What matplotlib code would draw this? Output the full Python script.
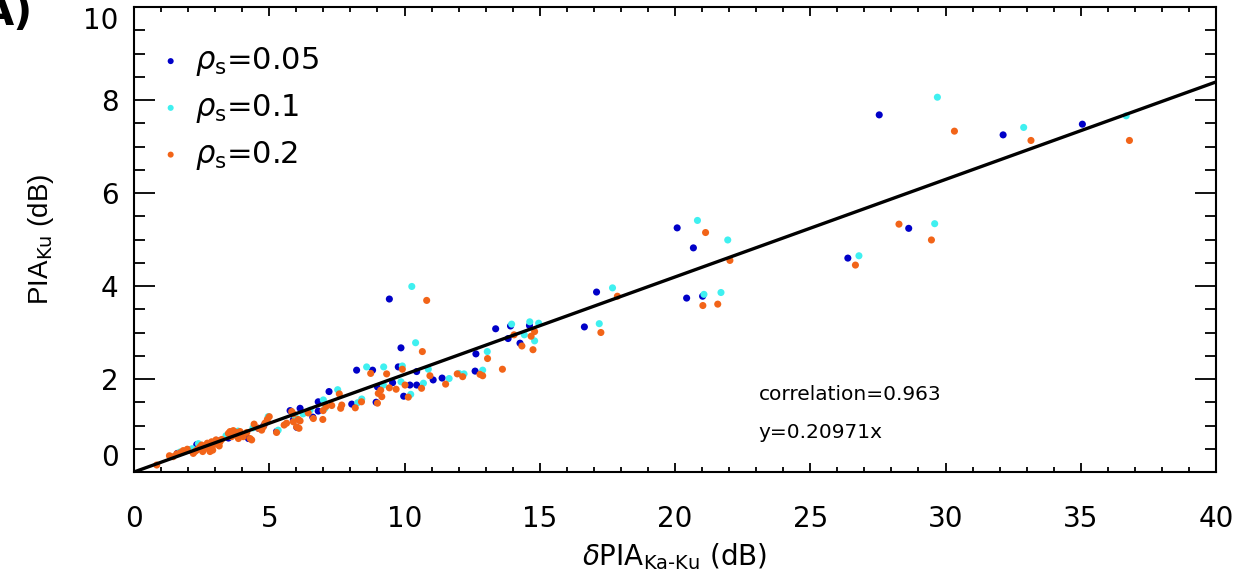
import matplotlib
matplotlib.use("Agg")
import matplotlib.pyplot as plt
from matplotlib.ticker import MultipleLocator, FixedLocator

plt.rcParams['font.family'] = ['DejaVu Sans']
plt.rcParams['mathtext.fontset'] = 'dejavusans'

# --- data: differential path-integrated attenuation vs Ku-band PIA ---
labels = [r'$\rho_{\rm s}$=0.05', r'$\rho_{\rm s}$=0.1', r'$\rho_{\rm s}$=0.2']
colors = ['#0000c8', '#3ff0f0', '#f26418']

x_rho005 = [20.08, 20.68, 17.10, 20.43, 21.02, 16.65, 26.39, 27.55, 32.13, 35.06, 28.64,
            9.44, 9.87, 13.37, 13.92, 14.62, 13.83, 14.27, 12.64, 12.61, 11.39, 8.23, 8.82,
            9.77, 10.45, 11.06, 7.21, 9.00, 9.56, 10.20, 9.97, 10.45, 8.05, 8.95, 6.81, 6.14,
            6.81, 6.61, 5.89, 6.02,
            3.49, 4.23, 4.60, 5.27, 5.77, 2.32, 2.81, 1.60, 2.05, 2.60, 3.05, 3.70, 4.05, 4.80]
y_rho005 = [5.25, 4.82, 3.87, 3.74, 3.78, 3.12, 4.60, 7.68, 7.25, 7.48, 5.24,
            3.72, 2.67, 3.08, 3.14, 3.15, 2.87, 2.77, 2.54, 2.17, 2.02, 2.19, 2.19,
            2.26, 2.16, 1.98, 1.73, 1.83, 1.92, 1.87, 1.63, 1.87, 1.46, 1.50, 1.51, 1.37,
            1.31, 1.18, 1.12, 0.96,
            0.73, 0.72, 0.94, 0.87, 1.32, 0.59, 0.54, 0.40, 0.47, 0.52, 0.68, 0.84, 0.78, 1.00]

x_rho01 = [20.83, 21.95, 17.69, 21.07, 21.70, 17.20, 26.80, 29.70, 32.89, 36.68, 29.60,
           10.27, 10.41, 13.96, 14.63, 14.96, 14.43, 14.81, 13.06, 12.89, 11.65, 12.01, 12.20,
           8.60, 9.23, 9.92, 10.88, 7.53, 9.22, 9.87, 10.23, 10.70, 8.27, 8.42, 7.00, 7.06,
           6.51,
           4.96, 5.33, 2.38, 3.12, 1.70, 2.15, 2.70, 3.40, 3.85, 4.40, 5.95, 6.25]
y_rho01 = [5.41, 4.99, 3.96, 3.82, 3.86, 3.19, 4.65, 8.06, 7.41, 7.66, 5.34,
           3.99, 2.78, 3.18, 3.23, 3.20, 2.95, 2.82, 2.59, 2.19, 2.01, 2.12, 2.11,
           2.26, 2.26, 2.28, 2.21, 1.77, 1.87, 1.94, 1.67, 1.91, 1.49, 1.57, 1.55, 1.37,
           1.33,
           1.19, 0.90, 0.61, 0.62, 0.43, 0.50, 0.58, 0.78, 0.88, 0.95, 1.20, 1.25]

x_rho02 = [21.13, 22.03, 17.87, 21.03, 21.58, 17.26, 26.67, 30.33, 33.16, 36.80, 28.28, 29.48,
           10.82, 10.66, 14.81, 14.05, 14.68, 14.34, 14.75, 13.07, 12.79, 12.89, 13.62, 11.52,
           11.95, 12.15, 8.75, 9.34, 9.92, 10.94, 7.59, 9.12, 9.03, 9.44, 9.69, 10.02, 10.14,
           10.63, 8.18, 8.41, 9.00, 9.16, 7.68, 7.64, 7.10, 7.31, 6.44, 6.63, 6.99, 6.98,
           5.83, 5.89, 6.07, 6.14, 6.10,
           0.84, 1.31, 1.45, 1.58, 1.73, 1.82, 1.97, 2.19, 2.25, 2.32, 2.38, 2.44, 2.50,
           2.54, 2.59, 2.71, 2.78, 2.87, 2.93, 3.03, 3.09, 3.18, 3.24, 3.15, 2.91, 2.81,
           3.49, 3.55, 3.67, 3.80, 3.92, 3.73, 3.61, 3.86, 4.04, 4.17, 4.29, 4.35, 4.44,
           4.60, 4.72, 4.78, 4.84, 4.93, 5.00, 4.91, 5.27, 5.55, 5.64, 5.89, 6.01]
y_rho02 = [5.15, 4.55, 3.78, 3.58, 3.61, 3.00, 4.45, 7.33, 7.13, 7.13, 5.33, 4.99,
           3.69, 2.59, 3.02, 2.95, 2.92, 2.71, 2.63, 2.44, 2.10, 2.07, 2.21, 1.89,
           2.11, 2.05, 2.12, 2.11, 2.21, 2.07, 1.68, 1.76, 1.69, 1.81, 1.78, 1.87, 1.61,
           1.80, 1.38, 1.51, 1.48, 1.62, 1.44, 1.37, 1.41, 1.43, 1.27, 1.15, 1.32, 1.13,
           1.30, 1.25, 1.13, 1.10, 0.94,
           0.15, 0.35, 0.33, 0.39, 0.42, 0.46, 0.49, 0.40, 0.44, 0.47, 0.50, 0.54, 0.58,
           0.44, 0.49, 0.62, 0.54, 0.65, 0.58, 0.69, 0.63, 0.65, 0.70, 0.56, 0.47, 0.44,
           0.83, 0.87, 0.89, 0.85, 0.87, 0.80, 0.76, 0.72, 0.76, 0.85, 0.72, 0.69, 1.03,
           0.94, 0.90, 0.97, 1.05, 1.13, 1.19, 1.08, 0.85, 1.01, 1.05, 1.08, 0.97]

fit_slope = 0.20971
correlation = 0.963
x_range = [0, 40]
y_range = [0, 10]
y_ticks = [0, 2, 4, 6, 8, 10]
x_ticks = [0, 5, 10, 15, 20, 25, 30, 35, 40]

series_x = [x_rho005, x_rho01, x_rho02]
series_y = [y_rho005, y_rho01, y_rho02]

# --- figure ---
fig = plt.figure(figsize=(12.41, 5.86), dpi=100)
ax = fig.add_axes([134 / 1241, 1 - 472 / 586, (1216 - 134) / 1241, (472 - 7) / 586])

for xs, ys, c, lab in zip(series_x, series_y, colors, labels):
    ax.scatter(xs, ys, s=26, color=c, edgecolors='none', label=lab, zorder=3)

ax.plot(x_range, [fit_slope * v for v in x_range], color='black', lw=2.4, zorder=4)

ax.set_xlim(x_range)
ax.set_ylim(y_range)

ax.xaxis.set_major_locator(FixedLocator(x_ticks))
ax.xaxis.set_minor_locator(MultipleLocator(1))
ax.yaxis.set_major_locator(FixedLocator(y_ticks))
ax.yaxis.set_minor_locator(MultipleLocator(0.5))

ax.tick_params(axis='both', which='both', direction='in', top=True, right=True,
               labelsize=20, width=1.3)
ax.tick_params(axis='y', which='major', length=15, pad=11)
ax.tick_params(axis='y', which='minor', length=8)
ax.tick_params(axis='x', which='major', length=6.5, pad=24)
ax.tick_params(axis='x', which='minor', length=3.5)
for sp in ax.spines.values():
    sp.set_linewidth(1.5)

# keep the end labels of the y axis inside the frame height
yticks = ax.yaxis.get_major_ticks()
yticks[0].label1.set_verticalalignment('bottom')
yticks[-1].label1.set_verticalalignment('top')

ax.set_xlabel(r'$\delta$PIA$_{\rm Ka\text{-}Ku}$ (dB)', fontsize=20, labelpad=6)
ax.set_ylabel(r'PIA$_{\rm Ku}$ (dB)', fontsize=20, labelpad=20,
              family='Liberation Sans')

ax.text(23.1, 1.66, 'correlation=%.3f' % correlation, fontsize=14.5, va='center')
ax.text(23.1, 0.86, 'y=%.5fx' % fit_slope, fontsize=14.5, va='center')

leg = ax.legend(loc='upper left', bbox_to_anchor=(0.0, 0.964), frameon=False,
                fontsize=22, handletextpad=0.3, labelspacing=0.45,
                handlelength=1.0, markerscale=0.85, borderaxespad=0.3)

fig.text(33 / 1241, 1 - 34 / 586, 'A)', ha='right', va='bottom', fontsize=30,
         fontweight='bold')

fig.savefig('out.png', dpi=100)
